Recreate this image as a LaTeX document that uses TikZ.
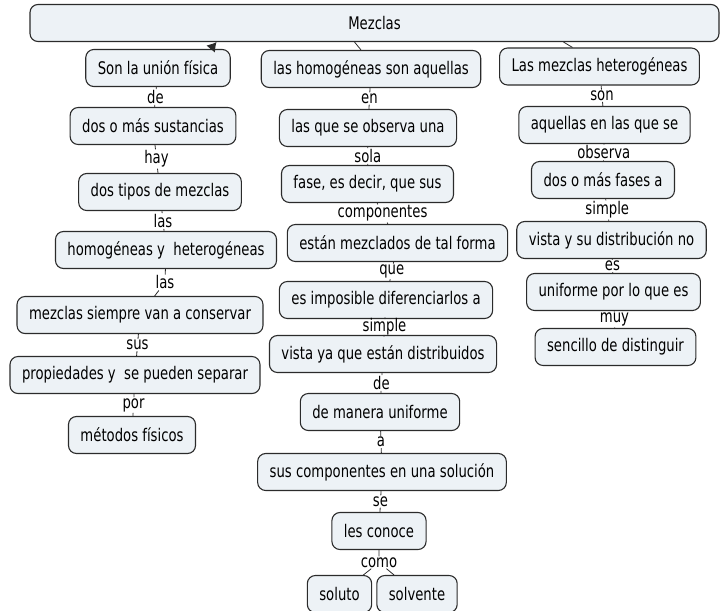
\documentclass[tikz,border=0pt]{standalone}
\usepackage{fontspec}
\setmainfont[FakeStretch=0.76]{DejaVu Sans}
\usetikzlibrary{positioning, calc, arrows.meta}
\definecolor{conceptfill}{HTML}{EDF2F6}
\definecolor{conceptline}{HTML}{2B2B2B}

\begin{document}
\begin{tikzpicture}[x=1pt, y=-1pt, font=\fontsize{17.4}{19}\selectfont,
	concept/.style={draw=conceptline, fill=conceptfill, line width=1.1pt,
		rounded corners=8pt, minimum height=37pt, inner xsep=12pt, inner ysep=2pt},
	linkw/.style={inner sep=1pt},
	conn/.style={draw=conceptline, line width=0.8pt}]
	
	\useasboundingbox (0,0) rectangle (722,610);
	
	% root
	\node[concept, minimum width=689pt] (mezclas) at (374.5,23) {Mezclas};
	
	% left column
	\node[concept] (son) at (158,68) {Son la unión física};
	\node[concept] (sust) at (153,126) {dos o más sustancias};
	\node[concept] (tipos) at (160,192) {dos tipos de mezclas};
	\node[concept] (hh) at (166,250) {homogéneas y~ heterogéneas};
	\node[concept] (conserv) at (140,315) {mezclas siempre van a conservar};
	\node[concept] (separ) at (135,375) {propiedades y~ se pueden separar};
	\node[concept] (metod) at (132,435) {métodos físicos};
	
	\node[linkw] (de) at ($(son.south)!.5!(sust.north)$) {de};
	\node[linkw] (hay) at ($(sust.south)!.5!(tipos.north)$) {hay};
	\node[linkw] (las) at ($(tipos.south)!.5!(hh.north)$) {las};
	\node[linkw, xshift=12pt] (las') at ($(hh.south)!.5!(conserv.north)$) {las};
	\node[linkw] (sus) at ($(conserv.south)!.5!(separ.north)$) {sus};
	\node[linkw] (por) at ($(separ.south)!.5!(metod.north)$) {por};
	
	% middle column
	\node[concept] (homog) at (371,69) {las homogéneas son aquellas};
	\node[concept] (obs) at (368,128) {las que se observa una};
	\node[concept] (fase) at (367.5,184) {fase, es decir, que sus};
	\node[concept] (forma) at (397.5,243) {están mezclados de tal forma};
	\node[concept] (impos) at (386,300) {es imposible diferenciarlos a};
	\node[concept] (vista) at (383,354) {vista ya que están distribuidos};
	\node[concept] (manera) at (380,412) {de manera uniforme};
	\node[concept] (solucion) at (382,472) {sus componentes en una solución};
	\node[concept] (conoce) at (379,531) {les conoce};
	\node[concept] (soluto) at (339.5,594) {soluto};
	\node[concept] (solvente) at (417,594) {solvente};
	
	\node[linkw] (en) at ($(homog.south)!.5!(obs.north)$) {en};
	\node[linkw] (sola) at ($(obs.south)!.5!(fase.north)$) {sola};
	\node[linkw] (compo) at ($(fase.south)!.5!(forma.north)$) {componentes};
	\node[linkw] (que) at ($(forma.south)!.5!(impos.north)$) {que};
	\node[linkw] (simple) at ($(impos.south)!.5!(vista.north)$) {simple};
	\node[linkw] (de') at ($(vista.south)!.5!(manera.north)$) {de};
	\node[linkw] (a) at ($(manera.south)!.5!(solucion.north)$) {a};
	\node[linkw] (se) at ($(solucion.south)!.5!(conoce.north)$) {se};
	\node[linkw] (como) at ($(conoce.south)!.5!(conoce.south |- soluto.north)$) {como};
	
	% right column
	\node[concept] (heter) at (599.5,66.5) {Las mezclas heterogéneas};
	\node[concept] (aquel) at (604.5,125) {aquellas en las que se};
	\node[concept] (fases) at (603,180) {dos o más fases a};
	\node[concept] (distr) at (611.5,240) {vista y su distribución no};
	\node[concept] (unif) at (613.5,292) {uniforme por lo que es};
	\node[concept] (senc) at (615.5,347) {sencillo de distinguir};
	
	\node[linkw] (son') at ($(heter.south)!.5!(aquel.north)$) {son};
	\node[linkw] (observa) at ($(aquel.south)!.5!(fases.north)$) {observa};
	\node[linkw] (simple') at ($(fases.south)!.5!(distr.north)$) {simple};
	\node[linkw] (es) at ($(distr.south)!.5!(unif.north)$) {es};
	\node[linkw] (muy) at ($(unif.south)!.5!(senc.north)$) {muy};
	
	% connectors
	\draw[conn, -{Latex[length=9pt, width=11pt]}] ([xshift=-20pt]son.north east) -- ([xshift=-158pt]mezclas.south);
	\draw[conn] ([xshift=-20pt]mezclas.south) -- ([xshift=-10pt]homog.north);
	\draw[conn] ([xshift=189pt]mezclas.south) -- ([xshift=-27pt]heter.north);
	
	\draw[conn] (son) -- (de) -- (sust) -- (hay) -- (tipos) -- (las) -- (hh)
		-- (las') -- (conserv) -- (sus) -- (separ) -- (por) -- (metod);
	\draw[conn] (homog) -- (en) -- (obs) -- (sola) -- (fase) -- (compo) -- (forma)
		-- (que) -- (impos) -- (simple) -- (vista) -- (de') -- (manera) -- (a)
		-- (solucion) -- (se) -- (conoce) -- (como);
	\draw[conn] (como) -- (soluto);
	\draw[conn] (como) -- (solvente);
	\draw[conn] (heter) -- (son') -- (aquel) -- (observa) -- (fases) -- (simple')
		-- (distr) -- (es) -- (unif) -- (muy) -- (senc);
	
\end{tikzpicture}
\end{document}
